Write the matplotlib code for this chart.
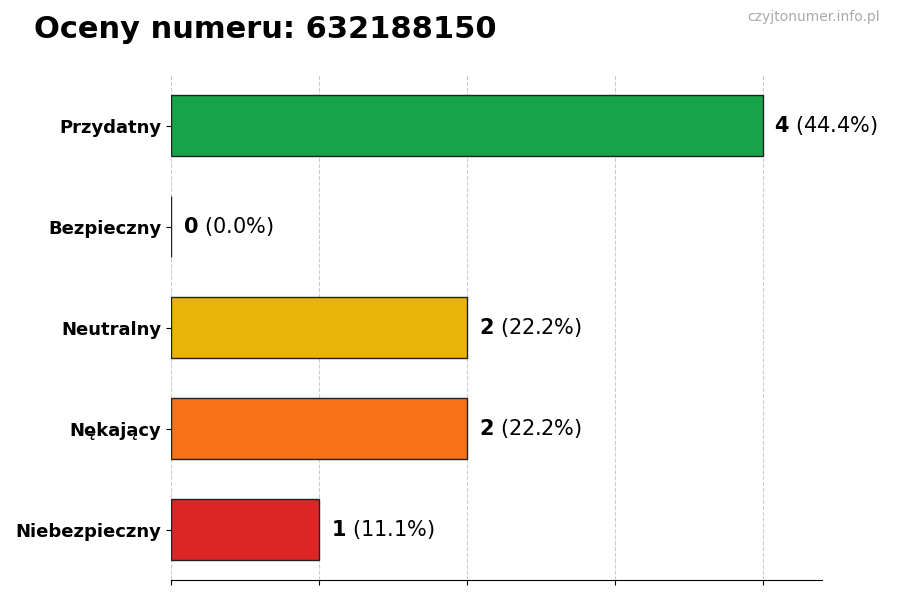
import matplotlib
matplotlib.use("Agg")
import matplotlib.pyplot as plt

categories = ["Przydatny", "Bezpieczny", "Neutralny", "Nękający", "Niebezpieczny"]
counts = [4, 0, 2, 2, 1]
colors = ["#16a34a", "#9ca3af", "#eab308", "#f97316", "#dc2626"]
total = sum(counts)

fig = plt.figure(figsize=(9, 6), dpi=100)
ax = fig.add_axes([0.19, 0.033, 0.723, 0.842])
y = list(range(len(categories)))
ax.barh(y, counts, height=0.6, color=colors, edgecolor="#222222", linewidth=1, zorder=3)
for yi, c in zip(y, counts):
    ax.text(c + 0.08, yi, f"$\\bf{{{c}}}$ ({c/total*100:.1f}%)", va="center", ha="left", fontsize=15)
ax.set_yticks(y)
ax.set_yticklabels(categories, fontsize=13, fontweight="bold")
ax.set_ylim(4.5, -0.5)
ax.set_xlim(0, 4.4)
ax.set_xticks([0, 1, 2, 3, 4])
ax.set_xticklabels([])
ax.grid(axis="x", linestyle="--", color="#cccccc", zorder=0)
for s in ["top", "right", "left"]:
    ax.spines[s].set_visible(False)
fig.text(0.038, 0.95, "Oceny numeru: 632188150", fontsize=22, fontweight="bold", va="center")
fig.text(0.978, 0.972, "czyjtonumer.info.pl", fontsize=10, color="#aaaaaa", ha="right", va="center")
fig.savefig("out.png", dpi=100)
